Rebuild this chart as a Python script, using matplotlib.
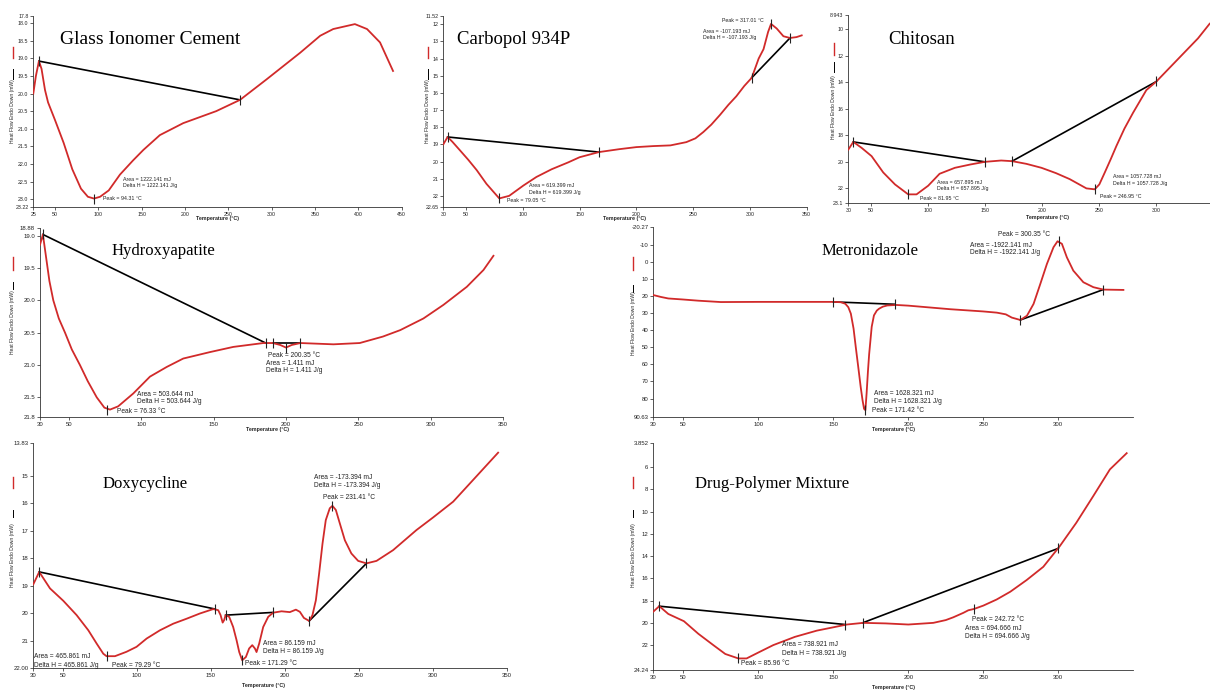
import matplotlib.pyplot as plt
from matplotlib.lines import Line2D

W, H = 1210, 690

# ---------------- data (°C, mW) ----------------
gic_temp = [25, 28, 31.5, 34.5, 38.5, 42, 50, 60, 70, 80, 88, 95, 102, 112, 125, 140,
            152, 171, 198, 236, 263.5, 294, 333, 356, 371, 396, 410, 425, 440]
gic_flow = [20.0, 19.5, 19.08, 19.3, 19.9, 20.25, 20.75, 21.4, 22.15, 22.7, 22.93, 22.98,
            22.93, 22.75, 22.3, 21.9, 21.6, 21.18, 20.84, 20.5, 20.18, 19.6, 18.84, 18.36,
            18.17, 18.03, 18.17, 18.55, 19.36]
gic_base_temp = [[31.5, 263.5]]
gic_base_flow = [[19.08, 20.18]]
gic_mark_temp = [31.5, 263.5, 95]
gic_mark_flow = [19.08, 20.18, 22.98]

carb_temp = [30, 33.8, 38, 44.7, 52, 59.4, 68, 79.3, 88, 100.5, 112, 125.4, 140, 150, 167,
             185, 200, 215, 230, 244, 252, 259, 266, 273.7, 281, 288, 295, 301.6, 307.7,
             312, 316, 318.6, 323.6, 329.5, 335.3, 341, 345.6]
carb_flow = [19.0, 18.57, 18.85, 19.35, 19.9, 20.5, 21.3, 22.15, 22.0, 21.4, 20.9, 20.45,
             20.05, 19.75, 19.45, 19.28, 19.16, 19.1, 19.06, 18.87, 18.65, 18.28, 17.85,
             17.28, 16.7, 16.2, 15.6, 15.12, 14.0, 13.45, 12.45, 11.98, 12.25, 12.7, 12.8,
             12.75, 12.65]
carb_base_temp = [[33.8, 167], [301.6, 335.3]]
carb_base_flow = [[18.57, 19.45], [15.12, 12.8]]
carb_mark_temp = [33.8, 167, 79.3, 301.6, 335.3, 318.6]
carb_mark_flow = [18.57, 19.45, 22.15, 15.12, 12.8, 11.98]

chit_temp = [30, 34.4, 41.7, 50.4, 60.6, 70.9, 82.5, 89.8, 100, 110, 123.4, 137, 149.7,
             164, 173.6, 186, 199.3, 212, 224, 238.7, 246, 250, 254.8, 260, 265, 272,
             279.6, 291.2, 300, 321.9, 336.5, 346.7]
chit_flow = [19.08, 18.5, 18.95, 19.57, 20.8, 21.7, 22.45, 22.45, 21.8, 20.9, 20.45, 20.2,
             20.0, 19.9, 19.95, 20.15, 20.45, 20.85, 21.3, 22.0, 22.07, 21.7, 20.8, 19.8,
             18.8, 17.5, 16.3, 14.6, 13.95, 12.0, 10.7, 9.6]
chit_base_temp = [[34.4, 149.7], [173.6, 300]]
chit_base_flow = [[18.5, 20.0], [19.95, 13.95]]
chit_mark_temp = [34.4, 149.7, 173.6, 300, 82.5, 246]
chit_mark_flow = [18.5, 20.0, 19.95, 13.95, 22.45, 22.07]

hap_temp = [30, 32, 34, 36.5, 39.2, 43, 47.3, 52, 57.6, 63, 69.2, 74.5, 78.4, 84, 94.5,
            106, 117.6, 129, 147.5, 163.6, 184.4, 191, 196, 200, 204, 210, 232.8, 251,
            267, 279, 295, 308.8, 325, 336.5, 343.4]
hap_flow = [19.14, 18.98, 19.3, 19.7, 20.0, 20.28, 20.5, 20.76, 21.0, 21.25, 21.5, 21.66,
            21.69, 21.64, 21.44, 21.18, 21.03, 20.9, 20.8, 20.72, 20.66, 20.66, 20.69,
            20.73, 20.69, 20.66, 20.68, 20.66, 20.56, 20.46, 20.28, 20.07, 19.79, 19.53,
            19.31]
hap_base_temp = [[32, 186], [191, 210]]
hap_base_flow = [[18.98, 20.66], [20.66, 20.66]]
hap_mark_temp = [32, 186, 191, 200, 210, 76.5]
hap_mark_flow = [18.98, 20.66, 20.66, 20.73, 20.66, 21.69]

met_temp = [30, 35, 40, 49.8, 60, 75, 100, 125, 150, 155, 158, 160, 161.7, 163.5, 165,
            166.7, 168.3, 169.5, 170.5, 171.4, 172.2, 173.1, 173.9, 175.6, 177.1, 179,
            180.5, 183, 186, 192, 200, 228, 250, 259, 265, 269, 274.7, 279.1, 283.5, 288,
            292.4, 296.8, 299.5, 302.4, 305.7, 310, 316.7, 323.4, 330, 343.4]
met_flow = [19.4, 20.5, 21.4, 22.0, 22.7, 23.5, 23.4, 23.4, 23.4, 23.6, 24.5, 26.5, 30.3,
            39, 50, 62, 73.5, 81, 86, 86.8, 77, 64, 54, 38, 31.3, 28.5, 27.4, 26.2, 25.5,
            25.2, 25.6, 27.7, 29, 29.7, 30.7, 32.6, 34, 31.5, 24.6, 12.9, 1.2, -8.6,
            -12.1, -10.6, -2.7, 5.1, 11.9, 14.8, 16.2, 16.4]
met_base_temp = [[150, 191], [274.7, 330]]
met_base_flow = [[23.4, 24.8], [34, 16.2]]
met_mark_temp = [150, 191, 171.4, 274.7, 330, 300.4]
met_mark_flow = [23.4, 24.8, 86.8, 34, 16.2, -12.5]

doxy_temp = [30, 34, 41.3, 50.3, 59.3, 67.2, 72.8, 77.3, 79.5, 85.2, 93, 99.8, 106.6,
             115.6, 124.6, 133.6, 142.6, 151.6, 155, 156.6, 158, 159, 160, 162.4, 165.1,
             167.4, 169.2, 171.2, 173.7, 175.9, 178, 179.8, 180.9, 182.7, 185.4, 188.8,
             192.2, 197.8, 203.4, 207.5, 210.2, 212.9, 216.5, 218.7, 221, 223.2, 225.5,
             227.7, 230.4, 232.2, 234.5, 237.2, 240.6, 245, 249.6, 255.2, 262, 273.2, 289,
             300.3, 313.8, 327.3, 344.2]
doxy_flow = [18.95, 18.5, 19.1, 19.55, 20.07, 20.62, 21.1, 21.47, 21.56, 21.56, 21.4,
             21.22, 20.92, 20.62, 20.38, 20.2, 20.01, 19.85, 19.89, 20.07, 20.34, 20.25,
             20.07, 20.13, 20.5, 20.98, 21.41, 21.71, 21.59, 21.28, 21.16, 21.28, 21.41,
             21.1, 20.5, 20.13, 19.98, 19.93, 19.96, 19.87, 19.95, 20.17, 20.28, 20.07,
             19.53, 18.56, 17.47, 16.62, 16.19, 16.1, 16.25, 16.74, 17.35, 17.83, 18.1,
             18.19, 18.1, 17.71, 16.98, 16.52, 15.95, 15.16, 14.17]
doxy_base_temp = [[34, 153], [160, 192.2], [216.5, 255.2]]
doxy_base_flow = [[18.5, 19.85], [20.07, 19.97], [20.28, 18.19]]
doxy_mark_temp = [34, 153, 160, 192.2, 216.5, 255.2, 79.5, 171.2, 231.6]
doxy_mark_flow = [18.5, 19.85, 20.07, 19.97, 20.28, 18.19, 21.56, 21.71, 16.1]

mix_temp = [30, 34, 40, 50.4, 60, 70, 78, 86.7, 92.2, 100, 110, 124.4, 139, 150, 159,
            170, 185, 200, 216.7, 225, 230, 236.7, 240, 243.8, 250, 258.9, 268, 278.9,
            290, 301, 312, 323.3, 334.4, 345.6]
mix_flow = [18.99, 18.5, 19.2, 19.85, 20.98, 22.0, 22.8, 23.2, 23.2, 22.67, 22.0, 21.26,
            20.7, 20.4, 20.15, 20.0, 20.05, 20.15, 20.0, 19.75, 19.5, 19.1, 18.87, 18.75,
            18.45, 17.9, 17.2, 16.15, 14.96, 13.1, 11.0, 8.6, 6.2, 4.74]
mix_base_temp = [[34, 158], [169.5, 300]]
mix_base_flow = [[18.5, 20.15], [20.0, 13.3]]
mix_mark_temp = [34, 158, 169.5, 300, 86.7, 243.8]
mix_mark_flow = [18.5, 20.15, 20.0, 13.3, 23.2, 18.75]

# axis ticks and labels
gic_xticks = [25, 50, 100, 150, 200, 250, 300, 350, 400, 450]
gic_yticks = [17.8, 18.0, 18.5, 19.0, 19.5, 20.0, 20.5, 21.0, 21.5, 22.0, 22.5, 23.0, 23.22]
gic_ylabels = ["17.8", "18.0", "18.5", "19.0", "19.5", "20.0", "20.5", "21.0", "21.5",
               "22.0", "22.5", "23.0", "23.22"]
carb_yticks = [11.52, 12, 13, 14, 15, 16, 17, 18, 19, 20, 21, 22, 22.65]
carb_ylabels = ["11.52", "12", "13", "14", "15", "16", "17", "18", "19", "20", "21", "22",
                "22.65"]
chit_yticks = [8.943, 10, 12, 14, 16, 18, 20, 22, 23.1]
chit_ylabels = ["8.943", "10", "12", "14", "16", "18", "20", "22", "23.1"]
hap_yticks = [18.88, 19.0, 19.5, 20.0, 20.5, 21.0, 21.5, 21.8]
hap_ylabels = ["18.88", "19.0", "19.5", "20.0", "20.5", "21.0", "21.5", "21.8"]
met_yticks = [-20.27, -10, 0, 10, 20, 30, 40, 50, 60, 70, 80, 90.63]
met_ylabels = ["-20.27", "-10", "0", "10", "20", "30", "40", "50", "60", "70", "80",
               "90.63"]
doxy_yticks = [13.83, 15, 16, 17, 18, 19, 20, 21, 22.0]
doxy_ylabels = ["13.83", "15", "16", "17", "18", "19", "20", "21", "22.00"]
mix_yticks = [3.852, 6, 8, 10, 12, 14, 16, 18, 20, 22, 24.24]
mix_ylabels = ["3.852", "6", "8", "10", "12", "14", "16", "18", "20", "22", "24.24"]
temp_ticks_350 = [30, 50, 100, 150, 200, 250, 300, 350]
temp_ticks_300 = [30, 50, 100, 150, 200, 250, 300]

RED = "#d12a2a"
SANS = ["Liberation Sans", "DejaVu Sans"]
SERIF = ["Liberation Serif", "DejaVu Serif"]

panels = [
    dict(name="Glass Ionomer Cement", temp=gic_temp, flow=gic_flow,
         base_t=gic_base_temp, base_f=gic_base_flow, mark_t=gic_mark_temp, mark_f=gic_mark_flow,
         xticks=gic_xticks, yticks=gic_yticks, ylabels=gic_ylabels,
         box=(33.3, 16, 401.7, 207), xlim=(25, 450), ylim=(23.22, 17.8),
         title_xy=(60, 40), title_size=14, tick_size=3.8, ann_size=3.8,
         legend_x=13, red=(47, 58), blk=(69, 79), lab_y=111, xlab_xy=(217, 219),
         notes=[("Area = 1222.141 mJ", 128, 22.45), ("Delta H = 1222.141 J/g", 128, 22.62),
                ("Peak = 94.31 °C", 105, 22.99)]),
    dict(name="Carbopol 934P", temp=carb_temp, flow=carb_flow,
         base_t=carb_base_temp, base_f=carb_base_flow, mark_t=carb_mark_temp, mark_f=carb_mark_flow,
         xticks=temp_ticks_350, yticks=carb_yticks, ylabels=carb_ylabels,
         box=(443.3, 16, 806.7, 207), xlim=(30, 350), ylim=(22.65, 11.52),
         title_xy=(457, 40), title_size=13.5, tick_size=3.8, ann_size=3.8,
         legend_x=428, red=(47, 58), blk=(69, 79), lab_y=111, xlab_xy=(625, 219),
         notes=[("Peak = 317.01 °C", 275.5, 11.81), ("Area = -107.193 mJ", 258.7, 12.45),
                ("Delta H = -107.193 J/g", 258.7, 12.8), ("Area = 619.399 mJ", 105.5, 21.37),
                ("Delta H = 619.399 J/g", 105.5, 21.78), ("Peak = 79.05 °C", 86, 22.3)]),
    dict(name="Chitosan", temp=chit_temp, flow=chit_flow,
         base_t=chit_base_temp, base_f=chit_base_flow, mark_t=chit_mark_temp, mark_f=chit_mark_flow,
         xticks=temp_ticks_300, yticks=chit_yticks, ylabels=chit_ylabels,
         box=(848.3, 15, 1210, 203), xlim=(30, 347), ylim=(23.1, 8.943),
         title_xy=(888, 40), title_size=13.5, tick_size=3.8, ann_size=3.8,
         legend_x=834, red=(43, 55), blk=(62, 72), lab_y=107, xlab_xy=(1048, 217),
         notes=[("Area = 657.895 mJ", 107.7, 21.55), ("Delta H = 657.895 J/g", 107.7, 22.0),
                ("Peak = 81.95 °C", 92.8, 22.75), ("Area = 1057.728 mJ", 261.8, 21.1),
                ("Delta H = 1057.728 J/g", 261.8, 21.62), ("Peak = 246.95 °C", 250.4, 22.6)]),
    dict(name="Hydroxyapatite", temp=hap_temp, flow=hap_flow,
         base_t=hap_base_temp, base_f=hap_base_flow, mark_t=hap_mark_temp, mark_f=hap_mark_flow,
         xticks=temp_ticks_350, yticks=hap_yticks, ylabels=hap_ylabels,
         box=(40, 228, 503, 416.7), xlim=(30, 350), ylim=(21.8, 18.88),
         title_xy=(112, 251), title_size=12, tick_size=4.3, ann_size=4.8,
         legend_x=13, red=(257, 270), blk=(282, 289), lab_y=322, xlab_xy=(267, 429),
         notes=[("Peak = 200.35 °C", 187.6, 20.86), ("Area = 1.411 mJ", 186.2, 20.97),
                ("Delta H = 1.411 J/g", 186.2, 21.09), ("Area = 503.644 mJ", 97, 21.45),
                ("Delta H = 503.644 J/g", 97, 21.57), ("Peak = 76.33 °C", 83.2, 21.72)]),
    dict(name="Metronidazole", temp=met_temp, flow=met_flow,
         base_t=met_base_temp, base_f=met_base_flow, mark_t=met_mark_temp, mark_f=met_mark_flow,
         xticks=temp_ticks_300, yticks=met_yticks, ylabels=met_ylabels,
         box=(653.3, 227.3, 1133.3, 416.7), xlim=(30, 350), ylim=(90.63, -20.27),
         title_xy=(822, 251), title_size=12, tick_size=4.3, ann_size=4.8,
         legend_x=633, red=(257, 270), blk=(285, 292), lab_y=323, xlab_xy=(893, 429),
         notes=[("Peak = 300.35 °C", 259.8, -16.3), ("Area = -1922.141 mJ", 241.1, -9.9),
                ("Delta H = -1922.141 J/g", 241.1, -5.8), ("Area = 1628.321 mJ", 177.1, 76.8),
                ("Delta H = 1628.321 J/g", 177.1, 81.5), ("Peak = 171.42 °C", 175.8, 86.8)]),
    dict(name="Doxycycline", temp=doxy_temp, flow=doxy_flow,
         base_t=doxy_base_temp, base_f=doxy_base_flow, mark_t=doxy_mark_temp, mark_f=doxy_mark_flow,
         xticks=temp_ticks_350, yticks=doxy_yticks, ylabels=doxy_ylabels,
         box=(33.3, 443.3, 506.7, 668.3), xlim=(30, 350), ylim=(22.0, 13.83),
         title_xy=(103, 484), title_size=12, tick_size=4.3, ann_size=4.8,
         legend_x=13, red=(477, 488), blk=(510, 517), lab_y=555, xlab_xy=(263, 686),
         notes=[("Area = -173.394 mJ", 219.7, 15.06), ("Delta H = -173.394 J/g", 219.7, 15.35),
                ("Peak = 231.41 °C", 225.7, 15.78), ("Area = 86.159 mJ", 185.2, 21.09),
                ("Delta H = 86.159 J/g", 185.2, 21.38), ("Peak = 171.29 °C", 173, 21.82),
                ("Area = 465.861 mJ", 30.5, 21.56), ("Delta H = 465.861 J/g", 30.5, 21.89),
                ("Peak = 79.29 °C", 83.2, 21.89)]),
    dict(name="Drug-Polymer Mixture", temp=mix_temp, flow=mix_flow,
         base_t=mix_base_temp, base_f=mix_base_flow, mark_t=mix_mark_temp, mark_f=mix_mark_flow,
         xticks=temp_ticks_300, yticks=mix_yticks, ylabels=mix_ylabels,
         box=(653.3, 443.3, 1133.3, 670), xlim=(30, 350), ylim=(24.24, 3.852),
         title_xy=(695, 484), title_size=12, tick_size=4.3, ann_size=4.8,
         legend_x=633, red=(477, 488), blk=(510, 517), lab_y=555, xlab_xy=(893, 687),
         notes=[("Peak = 242.72 °C", 242.5, 19.74), ("Area = 694.666 mJ", 237.8, 20.54),
                ("Delta H = 694.666 J/g", 237.8, 21.25), ("Area = 738.921 mJ", 115.8, 21.96),
                ("Delta H = 738.921 J/g", 115.8, 22.76), ("Peak = 85.96 °C", 88.5, 23.65)]),
]


def fx(px):
    return px / W


def fy(py):
    return 1 - py / H


def draw_panel(fig, p):
    l, t, r, b = p["box"]
    ax = fig.add_axes([fx(l), fy(b), (r - l) / W, (b - t) / H])
    ax.plot(p["temp"], p["flow"], color=RED, lw=1.3, zorder=3)
    for bt, bf in zip(p["base_t"], p["base_f"]):
        ax.plot(bt, bf, color="black", lw=1.2, zorder=2)
    ax.plot(p["mark_t"], p["mark_f"], ls="none", marker="|", ms=6.5, mew=0.8,
            color="#222222", zorder=4)
    ax.set_xlim(*p["xlim"])
    ax.set_ylim(*p["ylim"])
    ax.set_xticks(p["xticks"])
    ax.set_xticklabels([str(v) for v in p["xticks"]])
    ax.set_yticks(p["yticks"])
    ax.set_yticklabels(p["ylabels"])
    for side in ("top", "right"):
        ax.spines[side].set_visible(False)
    for side in ("left", "bottom"):
        ax.spines[side].set_linewidth(0.6)
        ax.spines[side].set_color("#333333")
    ax.tick_params(length=2, width=0.5, pad=1.5, labelsize=p["tick_size"],
                   colors="#222222")
    for lab in ax.get_xticklabels() + ax.get_yticklabels():
        lab.set_family(SANS)
    ax.patch.set_alpha(0)

    for text, x, y in p["notes"]:
        ax.text(x, y, text, fontsize=p["ann_size"], family=SANS, color="#222222",
                va="center", ha="left", zorder=5)

    fig.text(fx(p["title_xy"][0]), fy(p["title_xy"][1]), p["name"], family=SERIF,
             fontsize=p["title_size"], va="center", ha="left", color="black")

    # small legend glyphs and y label along the left edge
    x = fx(p["legend_x"])
    fig.add_artist(Line2D([x, x], [fy(p["red"][0]), fy(p["red"][1])],
                          color=RED, lw=1.0, transform=fig.transFigure))
    fig.add_artist(Line2D([x, x], [fy(p["blk"][0]), fy(p["blk"][1])],
                          color="black", lw=0.7, transform=fig.transFigure))
    fig.text(x, fy(p["lab_y"]), "Heat Flow Endo Down (mW)", rotation=90, family=SANS,
             fontsize=3.6, va="center", ha="center", color="#222222")
    fig.text(fx(p["xlab_xy"][0]), fy(p["xlab_xy"][1]), "Temperature (°C)", family=SANS,
             fontsize=3.8, weight="bold", va="center", ha="center", color="#222222")


fig = plt.figure(figsize=(W / 100, H / 100), dpi=100)
fig.patch.set_facecolor("white")

for panel in panels:
    draw_panel(fig, panel)

fig.savefig("out.png", dpi=100, facecolor="white")
